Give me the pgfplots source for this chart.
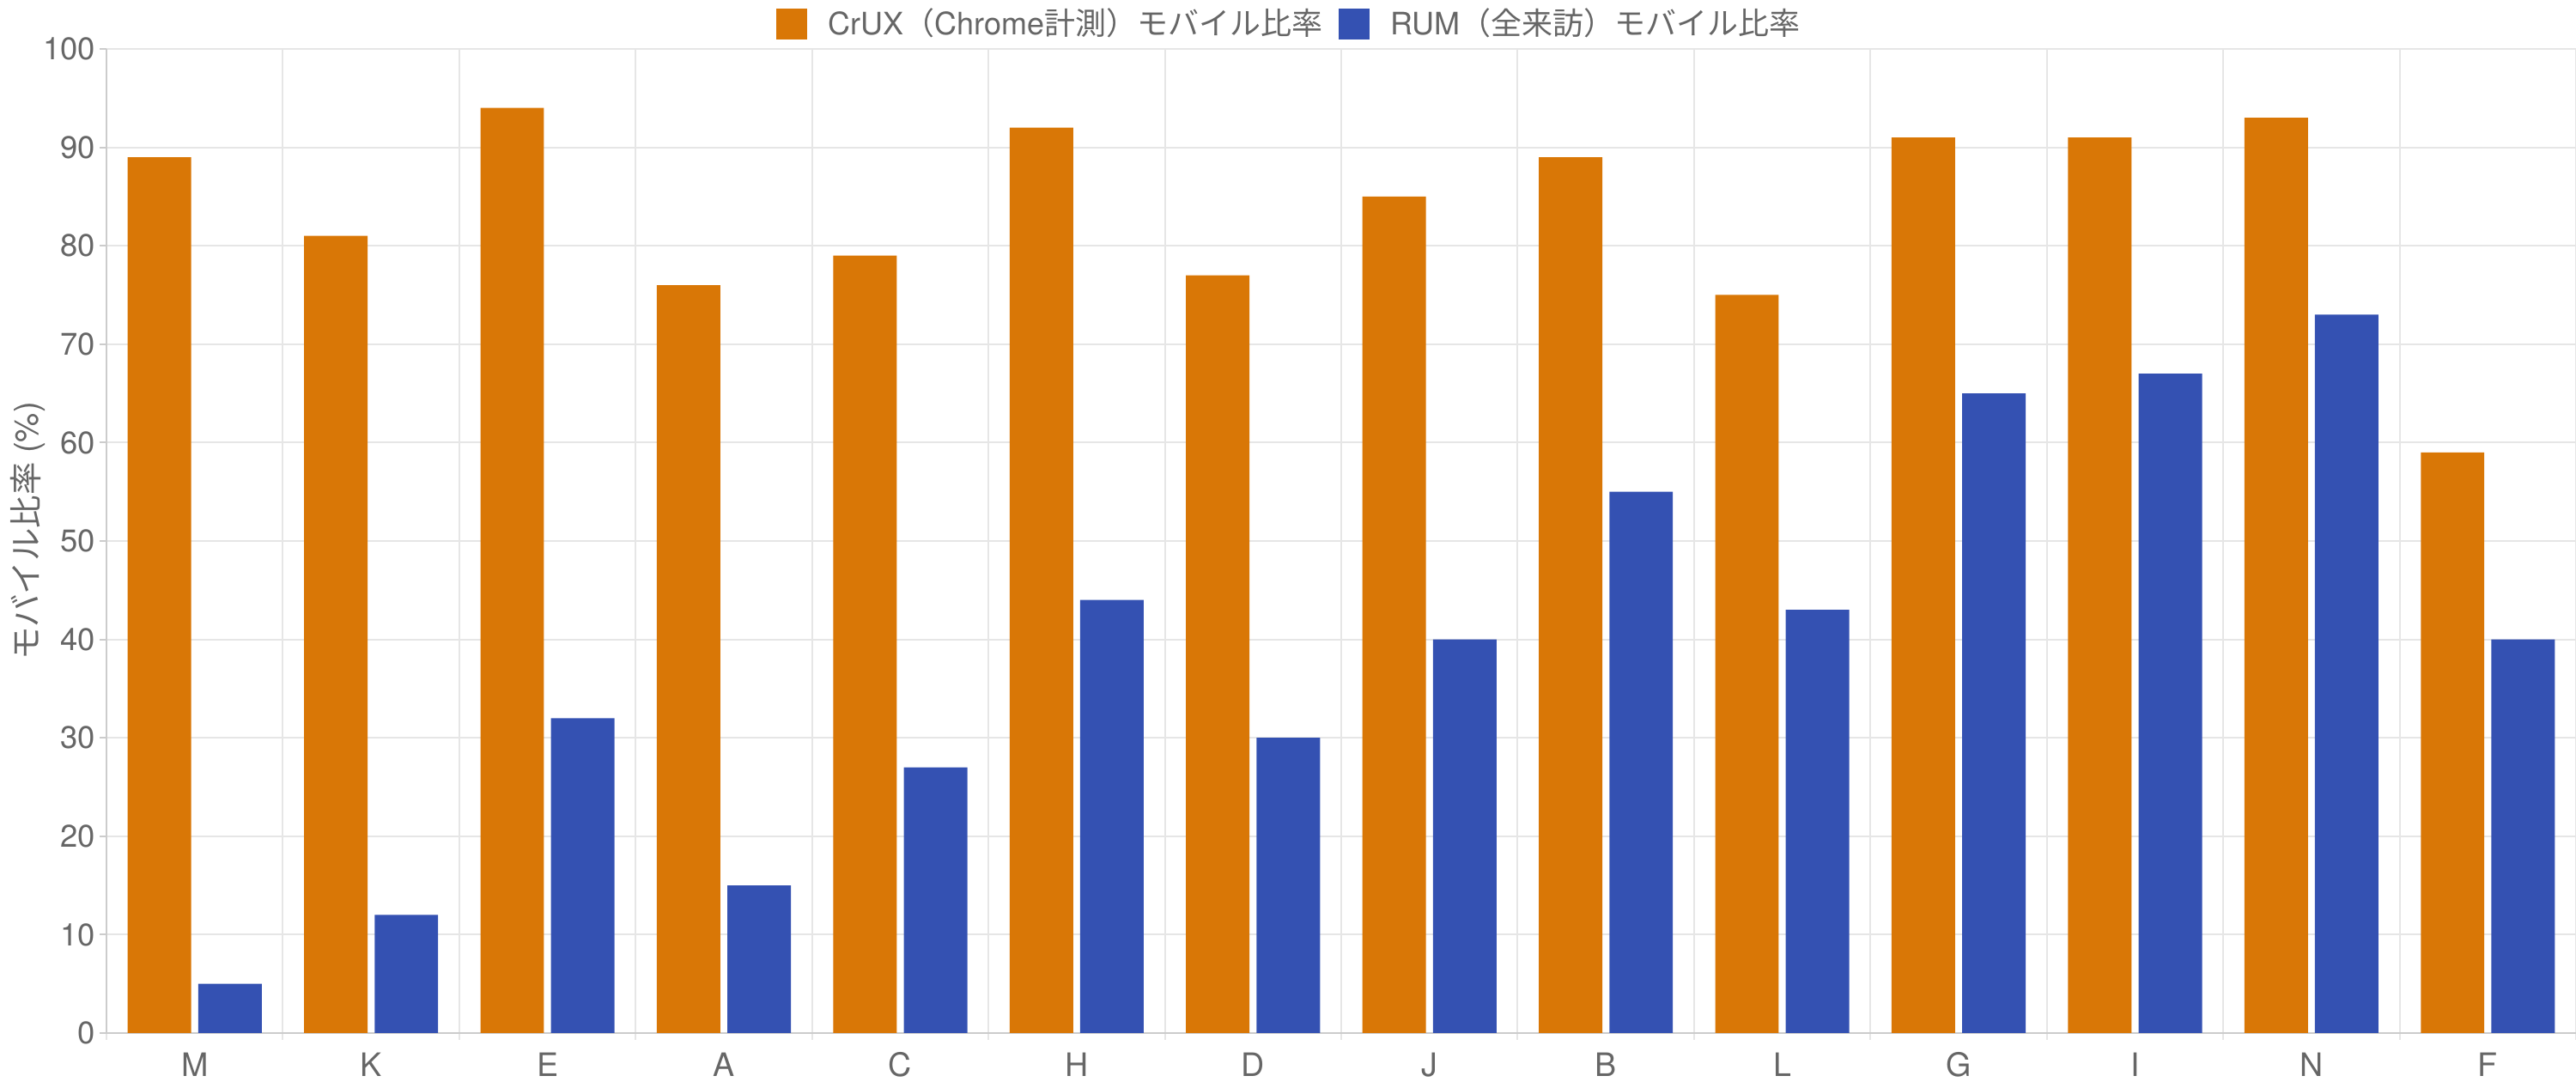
\documentclass[border=0pt]{standalone}
\usepackage{pgfplots}
\pgfplotsset{compat=1.18}
\usepackage{fontspec}
\setmainfont{TeX Gyre Heros}
\newfontfamily\cjk{Noto Sans CJK JP}
\definecolor{crux}{HTML}{D97706}
\definecolor{rum}{HTML}{3451B2}
\definecolor{txt}{HTML}{666666}
\definecolor{gridc}{HTML}{E6E6E6}
\definecolor{axc}{HTML}{CCCCCC}

\pgfplotstableread{
idx crux rum
0 89 5
1 81 12
2 94 32
3 76 15
4 79 27
5 92 44
6 77 30
7 85 40
8 89 55
9 75 43
10 91 65
11 91 67
12 93 73
13 59 40
}\datatable

\begin{document}
\begin{tikzpicture}
\path[use as bounding box] (0,0) rectangle (750pt,315pt);
\begin{axis}[
  at={(31pt,14.25pt)}, anchor=south west, scale only axis,
  width=719pt, height=286.5pt,
  ybar, ymin=0, ymax=100, xmin=-0.5, xmax=13.5,
  ytick={0,10,...,100},
  xtick={0,...,13},
  xticklabels={M,K,E,A,C,H,D,J,B,L,G,I,N,F},
  minor xtick={-0.5,0.5,...,13.5},
  xminorgrids, ymajorgrids,
  grid style={gridc, line width=0.5pt},
  minor grid style={gridc, line width=0.5pt},
  axis x line*=bottom, axis y line*=left,
  axis line style={axc, line width=0.6pt, -},
  tick align=outside,
  major tick length=2pt, minor tick length=2pt,
  major x tick style={draw=none},
  major y tick style={axc, line width=0.5pt},
  minor x tick style={gridc, line width=0.5pt},
  /pgf/number format/assume math mode=true,
  yticklabel style={font=\fontsize{9.1}{9.1}\selectfont, text=txt, inner sep=1pt},
  xticklabel style={font=\fontsize{9.4}{9.4}\selectfont, text=txt, inner sep=1pt, yshift=-2.5pt},
  ylabel={{\cjk モバイル比率} (\%)},
  ylabel style={at={(axis description cs:-0.032,0.51)}, anchor=center, font=\fontsize{9.6}{9.6}\selectfont, text=txt},
  legend style={at={(0.48,1.025)}, anchor=center, draw=none, fill=none,
    legend columns=-1, font=\fontsize{9.0}{9.0}\selectfont, text=txt,
    /tikz/every even column/.append style={column sep=2.75pt},
    inner sep=0pt, outer sep=0pt},
  legend image code/.code={\fill[#1] (0pt,-4.5pt) rectangle (9pt,4.5pt);},
  legend cell align=left,
]
\addplot[fill=crux, draw=none, bar width=0.36, bar shift=-0.2] table[x=idx, y=crux] {\datatable};
\addlegendentry{\hspace{4pt}CrUX{\cjk （}Chrome{\cjk 計測）モバイル比率}}
\addplot[fill=rum, draw=none, bar width=0.36, bar shift=0.2] table[x=idx, y=rum] {\datatable};
\addlegendentry{\hspace{4pt}RUM{\cjk （全来訪）モバイル比率}}
\end{axis}
\end{tikzpicture}
\end{document}
